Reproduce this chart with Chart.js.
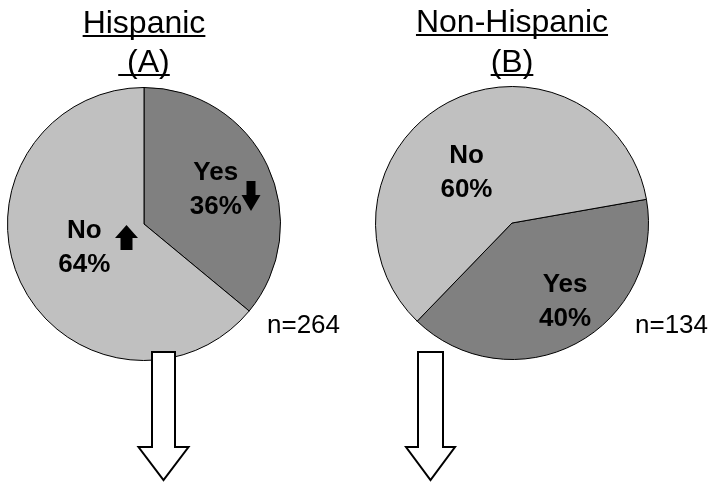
<!DOCTYPE html>
<html>
<head>
<meta charset="utf-8">
<script src="https://cdn.jsdelivr.net/npm/chart.js@4"></script>
<style>
    body { margin: 0; background: #fff; }
    #quadro { position: relative; width: 719px; height: 486px; }
    canvas { position: absolute; top: 0; }
</style>
</head>
<body>
<div id="quadro">
    <canvas id="grafico-hispanic" width="360" height="486" style="left:0"></canvas>
    <canvas id="grafico-nonhispanic" width="359" height="486" style="left:360px"></canvas>
</div>
<script>
// Data
const categories = ["Yes", "No"];
const hispanicValues = [36, 64];
const nonHispanicValues = [40, 60];
const hispanicTitle = ["Hispanic", " (A)"];
const nonHispanicTitle = ["Non-Hispanic", "(B)"];
const hispanicN = 264;
const nonHispanicN = 134;
const sliceColors = ["#808080", "#C0C0C0"];

const FONTE = "Liberation Sans, Arial, sans-serif";

// block arrow, dir 'down' or 'up'
function drawBlockArrow(ctx, a) {
    const sw = a.shaftW / 2, hw = a.headW / 2;
    ctx.beginPath();
    if (a.dir === "down") {
        ctx.moveTo(a.cx - sw, a.top);
        ctx.lineTo(a.cx + sw, a.top);
        ctx.lineTo(a.cx + sw, a.top + a.shaftH);
        ctx.lineTo(a.cx + hw, a.top + a.shaftH);
        ctx.lineTo(a.cx, a.top + a.shaftH + a.headH);
        ctx.lineTo(a.cx - hw, a.top + a.shaftH);
        ctx.lineTo(a.cx - sw, a.top + a.shaftH);
    } else {
        ctx.moveTo(a.cx, a.top);
        ctx.lineTo(a.cx + hw, a.top + a.headH);
        ctx.lineTo(a.cx + sw, a.top + a.headH);
        ctx.lineTo(a.cx + sw, a.top + a.headH + a.shaftH);
        ctx.lineTo(a.cx - sw, a.top + a.headH + a.shaftH);
        ctx.lineTo(a.cx - sw, a.top + a.headH);
        ctx.lineTo(a.cx - hw, a.top + a.headH);
    }
    ctx.closePath();
    ctx.fillStyle = a.fill;
    ctx.fill();
    if (a.stroke) {
        ctx.lineWidth = 2;
        ctx.strokeStyle = a.stroke;
        ctx.lineJoin = "miter";
        ctx.stroke();
    }
}

// titles, slice labels, n= and arrows
const decorPlugin = {
    id: "decor",
    afterDraw(chart, args, opts) {
        const ctx = chart.ctx;
        const meta = chart.getDatasetMeta(0);
        const values = chart.data.datasets[0].data;
        ctx.save();

        // underlined title
        ctx.font = "32px " + FONTE;
        ctx.fillStyle = "#000";
        ctx.strokeStyle = "#000";
        ctx.textAlign = "center";
        ctx.textBaseline = "alphabetic";
        opts.title.forEach((linha, i) => {
            const y = opts.titleY[i];
            ctx.fillText(linha, opts.titleX, y);
            const w = ctx.measureText(linha).width;
            ctx.lineWidth = 2;
            ctx.beginPath();
            ctx.moveTo(opts.titleX - w / 2, y + 3);
            ctx.lineTo(opts.titleX + w / 2, y + 3);
            ctx.stroke();
        });

        // slice labels
        ctx.font = "bold 26px " + FONTE;
        ctx.textBaseline = "middle";
        meta.data.forEach((arc, i) => {
            const p = arc.tooltipPosition();
            const x = p.x + opts.labelOffsets[i][0];
            const y = p.y + opts.labelOffsets[i][1];
            ctx.fillText(chart.data.labels[i], x, y - 17);
            ctx.fillText(values[i] + "%", x, y + 17);
        });

        // n=
        ctx.font = "26px " + FONTE;
        ctx.textAlign = "left";
        ctx.fillText("n=" + opts.n, opts.nPos[0], opts.nPos[1]);

        opts.arrows.forEach(a => drawBlockArrow(ctx, a));
        ctx.restore();
    }
};

function baseOptions(padding, rotation) {
    return {
        responsive: false,
        animation: false,
        events: [],
        rotation: rotation,
        layout: { padding: padding },
        plugins: {
            legend: { display: false },
            tooltip: { enabled: false }
        }
    };
}

// Hispanic (A)
let optsHispanic = baseOptions({ left: 7, right: 79, top: 87, bottom: 125 }, 0);
optsHispanic.plugins.decor = {
    title: hispanicTitle,
    titleX: 144,
    titleY: [33, 72],
    labelOffsets: [[10, -5], [2, -5]],
    n: hispanicN,
    nPos: [267, 326],
    arrows: [
        { dir: "down", cx: 251, top: 181, shaftW: 9, shaftH: 14, headW: 19, headH: 16, fill: "#000" },
        { dir: "up", cx: 126.5, top: 225, shaftW: 12, shaftH: 12, headW: 23, headH: 13, fill: "#000" },
        { dir: "down", cx: 163.5, top: 352, shaftW: 23, shaftH: 95, headW: 50, headH: 33, fill: "#fff", stroke: "#000" }
    ]
};

let myChartHispanic = new Chart(
    document.getElementById("grafico-hispanic"),
    {
        type: "pie",
        data: {
            labels: categories,
            datasets: [
                {
                    data: hispanicValues,
                    backgroundColor: sliceColors,
                    borderColor: "#000",
                    borderWidth: 1
                }
            ]
        },
        options: optsHispanic,
        plugins: [decorPlugin]
    }
);

// Non-Hispanic (B)
let optsNonHispanic = baseOptions({ left: 15, right: 70, top: 86, bottom: 126 }, 80);
optsNonHispanic.plugins.decor = {
    title: nonHispanicTitle,
    titleX: 152,
    titleY: [32, 72],
    labelOffsets: [[21, 19], [-13.5, 10]],
    n: nonHispanicN,
    nPos: [275, 326],
    arrows: [
        { dir: "down", cx: 70.5, top: 352, shaftW: 25, shaftH: 95, headW: 49, headH: 33, fill: "#fff", stroke: "#000" }
    ]
};

let myChartNonHispanic = new Chart(
    document.getElementById("grafico-nonhispanic"),
    {
        type: "pie",
        data: {
            labels: categories,
            datasets: [
                {
                    data: nonHispanicValues,
                    backgroundColor: sliceColors,
                    borderColor: "#000",
                    borderWidth: 1
                }
            ]
        },
        options: optsNonHispanic,
        plugins: [decorPlugin]
    }
);
</script>
</body>
</html>
